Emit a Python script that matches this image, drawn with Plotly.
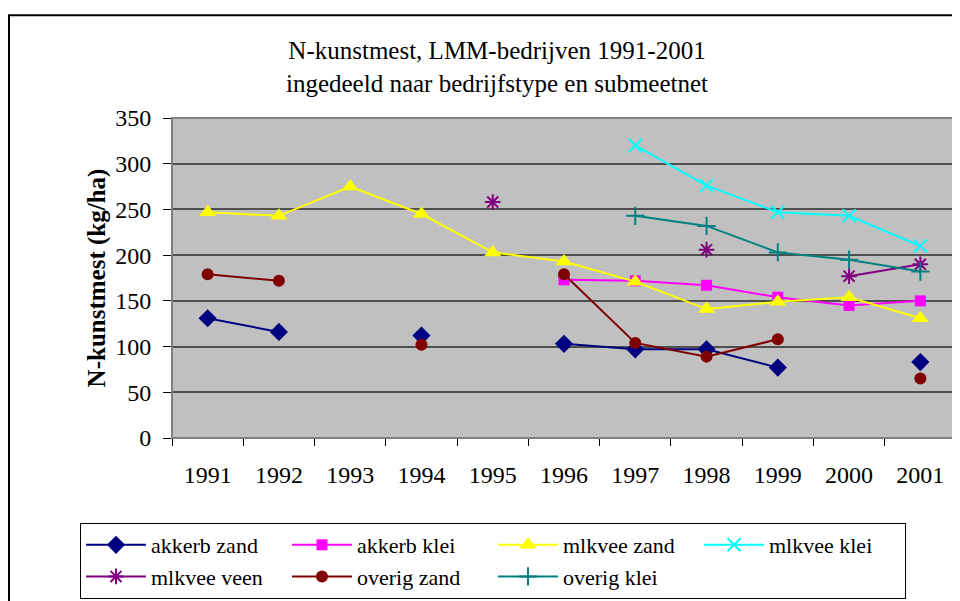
import plotly.graph_objects as go

jaren = ['1991', '1992', '1993', '1994', '1995', '1996', '1997', '1998', '1999', '2000', '2001']

akkerb_zand = [131, 116, None, 112, None, 103, 97, 97, 77, None, 83]
akkerb_klei = [None, None, None, None, None, 173, 172, 167, 154, 145, 150]
mlkvee_zand = [247, 243, 275, 245, 203, 193, 171, 141, 149, 154, 131]
mlkvee_klei = [None, None, None, None, None, None, 320, 276, 247, 243, 210]
mlkvee_veen = [None, None, None, None, 258, None, None, 206, None, 177, 190]
overig_zand = [179, 172, None, 102, None, 179, 104, 89, 108, None, 65]
overig_klei = [None, None, None, None, None, None, 243, 232, 203, 195, 182]

reeksen = [
    (akkerb_zand, 'akkerb zand', '#000080', 'diamond', 14),
    (akkerb_klei, 'akkerb klei', '#FF00FF', 'square', 11),
    (mlkvee_zand, 'mlkvee zand', '#FFFF00', 'triangle-up', 15),
    (mlkvee_klei, 'mlkvee klei', '#00FFFF', 'x-thin', 13),
    (mlkvee_veen, 'mlkvee veen', '#800080', 'asterisk', 13),
    (overig_zand, 'overig zand', '#800000', 'circle', 12),
    (overig_klei, 'overig klei', '#008080', 'cross-thin', 13),
]

font_family = "Liberation Serif, Times New Roman, serif"

fig = go.Figure()
for waarden, naam, kleur, symbool, grootte in reeksen:
    dun = 'thin' in symbool or symbool == 'asterisk'
    fig.add_trace(go.Scatter(
        x=jaren,
        y=waarden,
        name=naam,
        mode='lines+markers',
        connectgaps=False,
        line=dict(color=kleur, width=2),
        marker=dict(symbol=symbool, size=grootte, color=kleur,
                    line=dict(color=kleur, width=2 if dun else 0)),
    ))

# page body has an 8px margin, so the figure is a bit smaller than the window
W, H = 952, 593
ml, mr, mt, mb = 164, 4, 110, 162
pw = W - ml - mr
ph = H - mt - mb


def px_x(x):
    return (x - ml) / pw


def px_y(y):
    return (H - mb - y) / ph


fig.update_layout(
    width=W, height=H,
    margin=dict(l=ml, r=mr, t=mt, b=mb),
    paper_bgcolor='white',
    plot_bgcolor='#C0C0C0',
    font=dict(family=font_family, size=24, color='black'),
    title=dict(text='N-kunstmest, LMM-bedrijven 1991-2001<br>ingedeeld naar bedrijfstype en submeetnet',
               x=489 / W, xanchor='center', xref='container',
               y=1 - 51 / H, yanchor='top', yref='container',
               font=dict(size=25, family=font_family)),
    showlegend=True,
    legend=dict(orientation='h', x=px_x(72), y=px_y(591), xanchor='left', yanchor='bottom',
                bordercolor='black', borderwidth=1, bgcolor='white',
                font=dict(size=22, family=font_family),
                entrywidth=131, itemwidth=60, tracegroupgap=0),
    xaxis=dict(type='category', tickson='boundaries', ticks='outside', ticklen=7,
               tickcolor='black', showline=True, linecolor='black', linewidth=1,
               showgrid=False, tickfont=dict(size=24), range=[-0.5, 10.5],
               ticklabelstandoff=15),
    yaxis=dict(range=[0, 350], dtick=50, ticks='outside', ticklen=8, tickcolor='black',
               showline=True, linecolor='black', linewidth=1,
               gridcolor='#505050', gridwidth=1.5, zeroline=False,
               tickfont=dict(size=24), ticklabelstandoff=7,
               title=dict(text='<b>N-kunstmest (kg/ha)</b>', font=dict(size=25), standoff=2)),
    shapes=[
        dict(type='rect', xref='paper', yref='paper', x0=0, x1=1, y0=0, y1=1,
             line=dict(color='#808080', width=2), layer='above'),
        dict(type='rect', xref='paper', yref='paper', x0=px_x(1), x1=px_x(980),
             y0=px_y(620), y1=px_y(7), line=dict(color='black', width=2)),
    ],
)

fig.write_html("out.html")
